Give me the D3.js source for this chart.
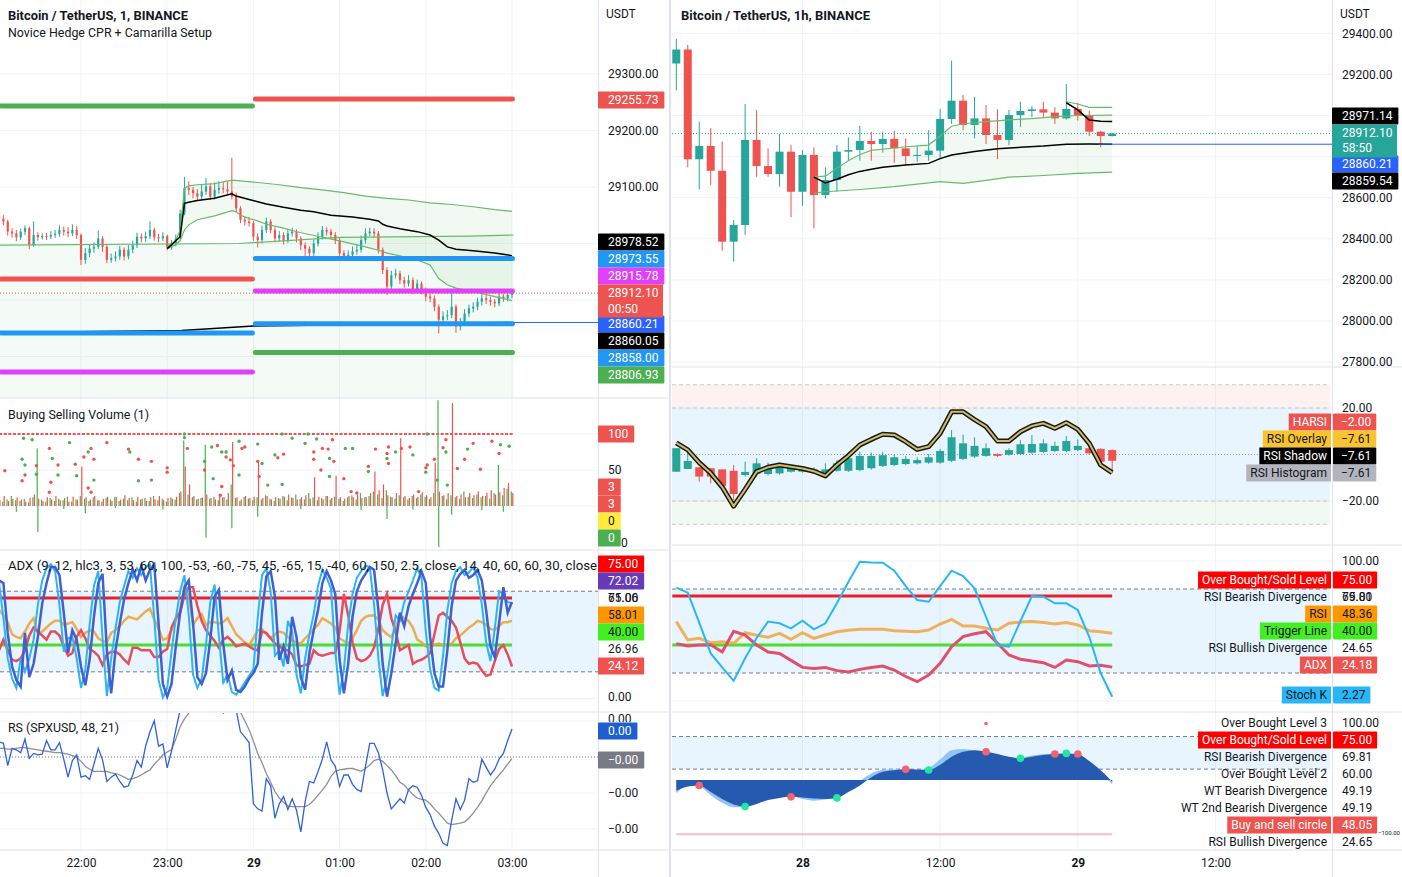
<!DOCTYPE html>
<html><head><meta charset="utf-8">
<script src="https://cdn.jsdelivr.net/npm/d3@7"></script>
<style>body{margin:0;background:#fff}svg{display:block;font-family:Roboto,"Liberation Sans",sans-serif}</style>
</head><body><svg id="c" width="1402" height="877"></svg>
<script>
// ---------------- DATA ----------------
const leftTicksT=[60,120,180,240,300,360];
const leftTickLabels=["22:00","23:00","29","01:00","02:00","03:00"];
const rightTicksH=[11,23,35,47];
const rightTickLabels=["28","12:00","29","12:00"];
const leftPriceTicks=[29300,29200,29100];
const leftPriceGrid=[29300,29200,29100,29000,28900,28800];
const rightPriceTicks=[29400,29200,28600,28400,28200,28000,27800];
const rightPriceGrid=[29400,29200,29000,28800,28600,28400,28200,28000,27800];

// left 1m chart, sampled every 3 minutes from 21:03
const lOpen0=29048;
const lClose=[29044,29039,29021,29018,29011,29021,29027,28997,29015,29011,
29013,29012,29015,29017,29024,29021,29018,29024,29015,28971,
28983,28991,28994,29009,28994,28971,28974,28977,28989,28977,
28989,28997,29012,29009,29013,29024,29011,29009,29013,28993,
29000,29009,29053,29098,29095,29089,29083,29092,29101,29083,
29095,29098,29096,29092,29083,29062,29042,29039,29036,29012,
29006,29024,29039,29024,29009,29015,29006,29018,29021,29009,
28997,28991,28983,29000,29012,29024,29021,29015,29006,28983,
28977,28980,28986,28989,29006,29018,29021,29018,28989,28953,
28924,28944,28947,28935,28929,28935,28918,28929,28918,28906,
28903,28888,28865,28871,28873,28888,28853,28859,28876,28885,
28888,28897,28903,28900,28897,28894,28906,28903,28909,28912.1];
const lHigh=[29059,29050,29042,29027,29024,29026,29032,29030,29039,29020,
29018,29019,29022,29024,29032,29030,29029,29034,29031,29018,
28992,28998,29002,29023,29013,28998,28982,28986,28996,28993,
28997,29005,29019,29018,29021,29039,29028,29017,29020,29016,
29006,29016,29060,29118,29110,29100,29096,29104,29116,29106,
29108,29110,29108,29110,29152,29090,29066,29048,29047,29040,
29018,29032,29046,29043,29029,29022,29020,29026,29028,29025,
29013,29002,28995,29007,29020,29031,29029,29026,29020,29010,
28988,28988,28995,28998,29014,29027,29028,29027,29022,28993,
28958,28952,28955,28952,28941,28944,28940,28936,28933,28922,
28912,28908,28892,28880,28882,28912,28892,28868,28884,28892,
28896,28904,28911,28909,28906,28902,28913,28911,28916,28918];
const lLow=[29038,29032,29014,29010,29004,29006,29015,28990,28994,29005,
29007,29006,29008,29010,29012,29014,29011,29013,29008,28962,
28964,28976,28984,28990,28985,28965,28966,28968,28971,28970,
28972,28983,28992,29002,29003,29008,29005,29002,29004,28988,
28989,28995,29005,29050,29086,29080,29076,29078,29086,29077,
29078,29088,29089,29085,29078,29056,29036,29032,29030,29005,
28993,29000,29018,29018,29002,29003,28998,29001,29012,29002,
28988,28978,28974,28978,28995,29007,29014,29008,28999,28974,
28970,28972,28975,28980,28984,29000,29013,29010,28982,28946,
28909,28918,28938,28928,28922,28924,28910,28912,28910,28898,
28896,28880,28841,28858,28864,28868,28842,28846,28854,28870,
28878,28882,28890,28893,28890,28887,28889,28897,28898,28903];

// overlays on left chart ([sample index, value]) and ([minute, value])
const lFlatBand=[[3,28997],[170,29000],[240,29011],[330,29013],[361,29015]];
const lWeekVwap=[[3,28842],[130,28846],[180,28854],[361,28860.05]];
const lVwap=[[39,28991],[42,29012],[43,29071],[44,29073],[46,29076],[50,29080],[54,29088],[55,29084],[58,29078],[60,29074],[62,29070],[66,29064],[70,29059],[73,29056],[77,29050],[82,29047],[86,29043],[88,29040],[89,29034],[90,29031],[93,29026],[97,29021],[100,29015],[102,29006],[104,28994],[106,28990],[110,28987],[115,28983],[119,28978.52]];
const lUpper=[[39,28994],[41,29005],[42,29024],[43,29098],[44,29102],[46,29104],[50,29106],[54,29112],[56,29111],[60,29108],[65,29104],[70,29099],[75,29095],[80,29090],[85,29084],[90,29080],[95,29077],[100,29072],[105,29069],[110,29065],[115,29060],[119,29057]];
const lLower=[[39,28991],[41,28998],[42,29005],[43,29024],[44,29033],[46,29042],[50,29049],[54,29058],[55,29056],[56,29050],[58,29044],[60,29040],[62,29034],[65,29029],[70,29019],[75,29011],[80,29003],[85,28994],[88,28988],[90,28983],[93,28978],[97,28971],[100,28962],[102,28938],[104,28927],[106,28921],[110,28915],[115,28906],[119,28899]];
const prevDayLevels=[29243.4,28937,28841.6,28772.6];
const curDayLevels=[29255.73,28973.55,28915.78,28858.00,28806.93];
const lastPrice=28912.10;
const hLine=28860.21;

// buying selling volume
const buyVol=[12,6,9,14,8,7,10,5,12,80, 9,6,11,7,10,8,13,6,9,14, 10,7,12,8,6,11,9,13,7,10, 8,12,6,9,11,7,14,8,10,6,
12,9,18,91,16,12,9,11,85,10, 13,8,12,9,30,11,7,13,10,8, 12,9,15,10,7,11,14,8,12,16, 10,9,18,12,8,11,14,9,13,10,
7,12,15,9,18,12,14,20,16,11, 22,13,10,15,12,9,14,11,16,13, 10,18,147,14,9,15,12,10,20,13, 11,16,12,14,10,18,57,15,24,20];
const sellVol=[8,14,7,10,12,9,6,11,16,10, 7,12,9,14,8,11,6,13,9,55, 12,9,14,8,10,13,7,12,9,15, 11,8,13,10,7,12,9,14,8,11,
10,13,20,55,30,14,10,12,16,11, 9,14,12,18,89,12,9,14,11,13, 62,11,14,9,12,10,13,16,11,9, 12,15,10,40,13,9,14,11,42,12,
10,14,12,16,11,13,18,48,22,30, 15,12,18,94,14,11,16,13,19,15, 12,60,20,15,18,143,14,16,12,18, 15,20,14,18,22,16,19,25,32,18];
const volDips=[[4,-8],[9,-36],[15,-4],[20,-10],[27,-3],[38,-5],[48,-44],[54,-31],[60,-15],[70,-4],[84,-6],[90,-18],[96,-5],[102,-57],[105,-12],[112,-6],[117,-8]];
const volDots=[[7,49,'r'],[19,65,'g'],[21,57,'g'],[21,43,'r'],[19,35,'r'],[20,94,'g'],[26,92,'g'],[29,56,'r'],[29,44,'g'],[38,80,'r'],[40,66,'g'],[39,33,'r'],[38,19,'r'],[44,57,'r'],[44,43,'g'],[52,88,'g'],[56,58,'r'],[57,42,'g'],[62,68,'r'],[65,75,'g'],[67,80,'r'],[65,25,'r'],[67,19,'r'],[69,65,'r'],[69,36,'g'],[78,88,'r'],[93,79,'r'],[94,75,'g'],[100,65,'r'],[100,35,'g'],[109,62,'r'],[109,36,'g'],[120,53,'r'],[120,47,'r'],[132,95,'g'],[134,80,'r'],[146,62,'g'],[146,50,'r'],[151,82,'g'],[152,38,'g'],[155,84,'r'],[158,75,'g'],[158,27,'r'],[157,15,'r'],[161,75,'g'],[161,68,'r'],[164,64,'r'],[170,43,'g'],[166,56,'r'],[172,80,'r'],[174,82,'r'],[170,90,'g'],[183,62,'r'],[183,86,'g'],[186,59,'g'],[184,41,'r'],[190,29,'g'],[195,71,'g'],[197,67,'r'],[200,30,'g'],[201,72,'r'],[207,94,'g'],[216,87,'g'],[222,75,'r'],[224,93,'g'],[222,65,'r'],[227,50,'r'],[228,80,'r'],[233,66,'g'],[233,41,'g'],[232,79,'r'],[235,92,'r'],[236,62,'r'],[244,80,'g'],[249,80,'g'],[243,38,'r'],[248,20,'r'],[252,18,'r'],[260,48,'g'],[260,55,'r'],[265,79,'r'],[273,73,'r'],[273,66,'g'],[274,59,'r'],[274,82,'r'],[279,75,'g'],[283,80,'r'],[289,82,'r'],[291,71,'g'],[295,20,'r'],[300,53,'r'],[300,47,'g'],[301,57,'r'],[306,65,'r'],[308,36,'g'],[314,75,'g'],[314,92,'r'],[312,81,'r'],[315,29,'g'],[322,52,'r'],[327,65,'r'],[329,79,'g'],[333,87,'r'],[338,51,'r'],[346,90,'r'],[352,85,'g'],[351,73,'r'],[358,83,'g'],[132,100,'g'],[200,100,'g'],[218,100,'g'],[301,100,'g']];

// left ADX panel
const lStochDark=[88,86,49,24,14,9,49,16,26,46, 71,86,98,98,92,64,34,51,44,24, 10,29,61,86,93,36,4,36,56,74, 86,96,88,99,88,96,100,56,11,1.5,
11,39,64,83,88,56,16,11,19,44, 76,81,41,14,21,6.5,5,9,15,19, 26,64,91,95,76,29,39,26,61,46, 16,6.5,34,51,66,86,95,88,78,29,
4,26,61,80,88,93,98,96,66,26, 1.5,19,41,64,54,69,78,86,95,86, 46,19,9,9,36,69,88,93,96,90, 92,96,88,66,39,31,56,83,64,72];
const lStochLight=[86,60,30,15,8,30,20,30,44,70, 88,97,100,95,70,35,45,46,30,8, 22,55,84,95,45,2,30,52,72,84, 95,90,97,92,98,100,60,14,1,8,
35,60,80,92,62,18,8,15,40,72, 85,46,12,18,5,3,7,12,17,22, 60,92,97,80,32,36,24,58,50,18, 4,30,48,63,84,96,90,82,35,3,
22,56,78,90,95,99,98,70,30,2, 16,38,62,58,72,80,88,97,90,50, 22,8,6,32,66,86,95,98,92,94, 98,90,70,42,28,52,80,78,72,71];
const lRsi=[66,62,57,48,46,45,50,56,60,49, 50,53,56,58,58,55,56,57,52,46, 49,51,50,45,43,42,49,51,54,58, 61,60,59,62,65,67,59,52,44,45,
51,58,66,83,77,55,60,63,55,57, 57,56,57,60,54,48,45,42,40,45, 51,52,48,45,48,50,49,46,43,42, 41,45,48,52,55,60,58,56,53,45,
43,41,45,51,58,61,62,62,59,51, 48,46,52,62,60,58,53,44,42,39, 38,40,41,40,40,41,45,47,50,53, 55,58,57,55,52,51,54,57,57,58];
const lAdx=[36,44,36,29,28,30,36,47,53,50, 47,44,50,50,47,39,32,34,46,51, 45,37,35,32,25,33,35,35,33,29, 26,38,38,36,36,36,31,31,35,37,
53,60,64,77,83,83,69,58,51,47, 43,38,44,46,43,39,40,41,39,37, 36,50,49,45,41,39,37,36,33,25, 24,25,26,36,33,32,33,34,34,50,
78,62,42,30,28,29,32,38,52,70, 78,60,50,36,38,40,26,28,29,31, 34,48,62,64,61,58,53,42,30,26, 27,26,21,17,18,28,37,40,33,24];
const adxLevels=[75,40];
const adxZone=[80,20];

// RS (SPXUSD) values in units of 1e-4
const rsLine=[2.1,1.9,-1.2,1.2,1.0,0.6,2.5,-0.2,0.5,0.3, 0.4,2.3,1.0,1.0,2.0,-0.3,-2.8,-0.5,0.3,-2.8, -2.6,-3.1,-1.0,1.2,-0.4,-3.4,-2.8,-2.4,-3.4,-4.2,
-4.0,-2.5,-0.5,-1.4,1.5,3.5,5.0,1.5,1.8,-1.5, 0.8,3.8,6.5,10,12,12,12,11,9,7, 6.5,6.8,6.1,7.5,8,6.5,3.5,2.8,2.0,-6.5,
-7.2,-7.5,-3.0,-4.0,-8.5,-6.5,-5.5,-7.3,-5.8,-7.4, -10.4,-6.2,-3.4,-3.6,-2.0,-0.3,2.1,-0.4,-1.3,-4.1, -2.5,-2.5,-3.8,-4.5,-4.8,-1.3,1.9,1.9,0.6,-1.8,
-5.0,-7.2,-6.5,-5.8,-6.4,-4.5,-4.0,-4.2,-5.3,-7.0, -8.0,-9.6,-10.6,-12.0,-12.3,-8.8,-5.8,-7.3,-6.0,-3.0, -3.5,-3.3,-0.3,-1.4,-2.5,-1.7,-0.3,0.5,2.3,3.9];
const rsMa=[1.2,1.2,1.1,1.1,1.2,1.3,1.3,1.2,1.1,1.0, 0.9,0.8,0.7,0.6,0.6,0.5,0.4,0.2,0.0,-0.6, -1.3,-1.7,-2.0,-2.0,-2.0,-2.0,-2.2,-2.3,-2.5,-2.8,
-3.1,-3.0,-2.8,-2.5,-2.1,-1.8,-1.0,-0.4,0.3,0.7, 1.0,2.5,4.2,5.3,6.1,6.6,7.0,7.2,7.3,7.3, 7.2,7.2,7.1,7.0,6.8,6.5,6.2,5.0,3.8,2.2,
0.5,-0.8,-2.3,-3.5,-4.8,-5.7,-6.3,-6.8,-6.9,-6.9, -6.9,-6.9,-6.6,-6.0,-5.3,-4.6,-3.8,-2.7,-2.0,-1.8, -1.7,-1.6,-1.6,-1.8,-2.0,-1.6,-1.1,-0.5,-0.3,-0.6,
-1.2,-1.8,-2.6,-3.5,-3.9,-4.6,-5.2,-5.7,-5.9,-6.0, -6.5,-7.2,-7.8,-8.5,-9.2,-9.4,-9.3,-9.2,-9.0,-8.5, -7.8,-7.0,-6.1,-5.0,-4.0,-3.2,-2.5,-1.8,-1.0,-0.2];

// right 1h chart, 27 13:00 -> 29 03:00
const rOpen=[29253,29321,28787,28852,28731,28386,28467,28881,28754,28715,28824,28629,28808,28613,28686,28824,28832,28876,28861,28886,28840,28803,28808,28829,28983,29072,28954,28986,28905,28881,29002,29022,29030,29014,28986,29032,29002,28921,28900];
const rHigh=[29373,29343,28970,28938,28873,28492,29056,29027,28840,28910,28856,28832,28845,28748,28856,28894,28949,28921,28921,28926,28889,28852,28929,29032,29267,29100,29091,29051,29030,29027,29067,29046,29067,29040,29153,29062,29023,28926,28915];
const rLow=[29122,28748,28641,28662,28342,28289,28419,28702,28702,28654,28505,28560,28451,28597,28629,28780,28780,28780,28819,28770,28759,28775,28780,28792,28959,28929,28889,28861,28787,28856,28945,28991,28991,28959,28980,28975,28900,28845,28898];
const rClose=[29321,28787,28852,28731,28386,28467,28881,28754,28715,28824,28629,28808,28613,28686,28824,28832,28876,28861,28886,28840,28803,28808,28829,28983,29072,28954,28986,28905,28881,29002,29022,29030,29014,28986,29032,29002,28921,28900,28912.1];
const rVwap=[[12,28700],[13,28672],[14,28690],[15,28712],[16,28728],[17,28738],[18,28748],[20,28759],[22,28767],[23,28790],[24,28808],[26,28825],[28,28838],[30,28845],[32,28851],[34,28860],[36,28861],[38,28859.54]];
const rUpper=[[12,28702],[13,28705],[14,28743],[15,28780],[16,28810],[17,28830],[20,28848],[22,28856],[23,28900],[24,28948],[25,28960],[27,28970],[29,28979],[31,28985],[33,28995],[35,29000],[38,29002]];
const rLower=[[12,28622],[13,28629],[16,28640],[19,28654],[22,28672],[23,28678],[25,28670],[27,28684],[29,28700],[32,28708],[35,28718],[38,28724]];
const rNewVwap=[[34,29062],[35,29027],[36,28978],[37,28972],[38,28971.14]];
const rNewUpper=[[34,29067],[35,29056],[36,29040],[38,29040]];

// HARSI
const haOpen=[-7.4,-6.2,-5.5,-5.9,-6.4,-7.0,-8.8,-8.4,-8.4,-8.1,-7.4,-7.4,-7.5,-7.8,-7.0,-7.0,-6.7,-5.9,-4.9,-4.5,-4.1,-3.8,-3.5,-3.5,-2.7,-1.9,-0.9,-0.6,0.2,-0.1,0.2,0.8,1.1,1.5,1.5,1.9,2.7,2.4,1.9];
const haHigh=[2.7,1.2,-5.5,-5.9,-6.4,-4.5,-3.1,-1.6,-3.5,-3.5,-4.5,-5.0,-5.5,-3.8,-2.4,-0.6,1.3,0.8,1.2,0.2,-0.6,-1.2,0.2,2.4,10.5,8.5,7.4,4.8,0.5,2.7,6.2,8.4,6.5,5.5,8.0,6.5,3.0,2.7,2.2];
const haLow=[-7.4,-6.2,-11.7,-12.4,-14.5,-19.6,-9.5,-9.5,-9.0,-8.6,-7.8,-7.8,-8.0,-9.5,-7.5,-7.5,-7.2,-6.5,-5.4,-5.0,-4.6,-4.3,-4.0,-4.0,-3.2,-2.4,-1.5,-1.0,-1.0,-0.5,-0.3,0.3,0.6,1.0,1.0,1.4,0.0,-3.5,-8.1];
const haClose=[2.7,-2.8,-9.5,-9.5,-13.5,-17,-7.5,-3.8,-4.9,-4.5,-5.5,-5.9,-6.4,-6.4,-3.8,-1.6,-0.6,-0.6,-0.3,-1.2,-1.9,-2.4,-1.2,1.5,7.4,4.8,3.7,2.7,-0.6,1.9,4.4,4.5,4.8,3.7,5.8,3.7,0.5,-3.1,-2.7];
const rsiOverlay=[5,2,-3.5,-8,-14,-22.2,-15,-7.4,-5.5,-4.5,-5.3,-6,-7.2,-9.2,-4.5,-0.5,4.1,6.5,8.7,8.4,5.5,2.2,3.4,9.1,18.4,18.4,15,12,5.8,5.8,9.8,12.3,13.4,11.3,13.7,10.8,4.8,-4.5,-7.8];
const harsiZones=[30,20,-20,-30];

// right ADX / RSI / Stoch
const rStochK=[81,77.4,56,34,24,14.5,30.5,45,56.7,55.5,51.9,57.4,51.2,55.5,69.8,85,99.5,99,98.8,93.1,82,72.1,70.9,82,93.1,89.3,80.5,60,40,38.8,57,75,74.5,69.8,69.8,65,45.9,19.8,3];
const rRsi=[56.7,43.6,44.8,41.7,42.4,41.2,48.8,47,45.5,48.3,44,48.8,44.8,47.1,49.5,50.5,51.2,51.2,51.2,50.2,49.8,49.5,50.7,55,58.3,53.6,53.6,52,50.7,55.5,56.5,56.7,56,55,56,54.3,50.2,49.5,48.4];
const rAdx=[41,39.3,40,40.2,35,49.8,47.1,40,35,34,29,24,23.3,24,21.7,20.7,22.6,24,25,22.1,17.5,13.8,18.6,26.9,38.8,46,48,49.5,41.2,32.9,29.8,28.5,27.4,24,29.3,28.1,25,25.5,24.2];

// WaveTrend
const wt1=[-25,-10,-12,-28,-42,-50,-50,-42,-34,-30,-30,-35,-38,-36,-30,-16,-2,12,19,20,19,18,22,38,55,57,54,50,45,40,41,45,48,49,49,45,30,12,-8];
const wt2=[-20,-12,-10,-22,-35,-45,-49,-44,-37,-33,-31,-32,-34,-35,-33,-22,-10,5,15,18,19.7,19.5,18.4,28,43,52,55,52,48,43,40,43,46,48,49,48,35,18,-3];
const wtDots=[[2,-10,'r'],[6,-49,'g'],[10,-31,'r'],[14,-33,'g'],[20,19.7,'r'],[22,18.4,'g'],[27,52,'r'],[30,40,'g'],[33,48,'r'],[34,49,'g'],[35,48,'r']];
const wtTopDot=[27,104];
const wtZone=[80,20];
const wtLow=-100;

// ---------------- DRAW ----------------
const svg=d3.select("#c");
const defs=svg.append("defs");
function clip(id,x,y,w,h){defs.append("clipPath").attr("id",id).append("rect").attr("x",x).attr("y",y).attr("width",w).attr("height",h);return "url(#"+id+")";}
const TEAL="#26a69a",RED="#ef5350",TXT="#131722",GRID="#f0f3fa",SEP="#e0e3eb";

const xL=d3.scaleLinear().domain([60,360]).range([81,512]);
const tL=i=>3+3*i;
const xLi=i=>xL(tL(i));
const yLP=d3.scaleLinear().domain([29300,29100]).range([74,187]);
const yLV=d3.scaleLinear().domain([0,100]).range([506,434]);
const yLA=d3.scaleLinear().domain([0,100]).range([698.7,564.4]);
const yLR=d3.scaleLinear().domain([0,-10]).range([757,829]);
const xR=d3.scaleLinear().domain([0,38]).range([676.3,1112.2]);
const yRP=d3.scaleLinear().domain([29400,27800]).range([33.3,362.1]);
const yRH=d3.scaleLinear().domain([20,-20]).range([408,501]);
const yRA=d3.scaleLinear().domain([100,0]).range([561,701]);
const yRW=d3.scaleLinear().domain([0,-100]).range([780,834.3]);

function hl(g,x1,x2,y,c,w,dash){return g.append("line").attr("x1",x1).attr("x2",x2).attr("y1",y).attr("y2",y).attr("stroke",c).attr("stroke-width",w||1).attr("stroke-dasharray",dash||null);}
function vl(g,x,y1,y2,c,w){return g.append("line").attr("x1",x).attr("x2",x).attr("y1",y1).attr("y2",y2).attr("stroke",c).attr("stroke-width",w||1);}
function txt(g,x,y,s,o={}){const t=g.append("text").attr("x",x).attr("y",y).attr("dy","0.35em").attr("font-size",o.fs||12).attr("fill",o.fill||TXT).attr("font-weight",o.fw||null).attr("text-anchor",o.anchor||"start").text(s);if(o.len)t.attr("textLength",o.len).attr("lengthAdjust","spacingAndGlyphs");return t;}
function boxL(g,x,yc,s,bg,fg,o={}){
  const t=txt(g,x+(o.padL??10),yc,s,{fill:fg});
  const w=t.node().getComputedTextLength();
  const h=o.h||17;
  g.insert("rect",()=>t.node()).attr("x",x).attr("y",yc-h/2).attr("width",w+(o.padL??10)+(o.padR??6)).attr("height",h).attr("fill",bg).attr("rx",1);
  return t;
}
function boxR(g,xr,yc,s,bg,fg){
  const t=txt(g,xr-4,yc,s,{fill:fg,anchor:"end"});
  const w=t.node().getComputedTextLength();
  if(bg) g.insert("rect",()=>t.node()).attr("x",xr-w-8).attr("y",yc-8.5).attr("width",w+8).attr("height",17).attr("fill",bg);
  return t;
}

const root=svg.append("g");
root.append("rect").attr("width",1402).attr("height",877).attr("fill","#fff");

// grid
const grid=root.append("g");
leftTicksT.forEach(t=>vl(grid,xL(t),0,850,GRID));
rightTicksH.forEach(h=>{if(xR(h)<1330)vl(grid,xR(h),0,850,GRID);});
leftPriceGrid.forEach(v=>hl(grid,0,598,yLP(v),GRID));
rightPriceGrid.forEach(v=>hl(grid,672,1332,yRP(v),GRID));
[0,50,100].forEach(v=>hl(grid,0,598,yLV(v),GRID));
[0,100].forEach(v=>hl(grid,0,598,yLA(v),GRID));
[5,0,-5,-10].forEach(v=>hl(grid,0,598,yLR(v),GRID));
[20,-20].forEach(v=>hl(grid,672,1332,yRH(v),GRID));
[100,0].forEach(v=>hl(grid,672,1332,yRA(v),GRID));

// ===== LEFT PRICE PANEL =====
const lp=root.append("g").attr("clip-path",clip("clp",0,0,598,398));
const lineT=d3.line().x(d=>xL(d[0])).y(d=>yLP(d[1]));
const lineI=d3.line().x(d=>xLi(d[0])).y(d=>yLP(d[1]));
lp.append("path").attr("d",d3.area().x(d=>xL(d[0])).y0(398).y1(d=>yLP(d[1]))(lFlatBand)).attr("fill","rgba(76,175,80,0.06)");
const upI=d3.scaleLinear().domain(lUpper.map(d=>d[0])).range(lUpper.map(d=>d[1]));
lp.append("path").attr("d",d3.area().x(d=>xLi(d[0])).y0(d=>yLP(d[1])).y1(d=>yLP(upI(d[0])))(lLower)).attr("fill","rgba(76,175,80,0.07)");
const lc=lp.append("g");
lClose.forEach((c,i)=>{
  const o=i?lClose[i-1]:lOpen0, x=xLi(i), col=c>=o?TEAL:RED;
  vl(lc,x,yLP(lHigh[i]),yLP(lLow[i]),col,1);
  const y1=yLP(Math.max(o,c)),y2=yLP(Math.min(o,c));
  lc.append("rect").attr("x",x-1.1).attr("width",2.2).attr("y",y1).attr("height",Math.max(0.8,y2-y1)).attr("fill",col);
});
lp.append("path").attr("d",lineT(lFlatBand)).attr("fill","none").attr("stroke","#66bb6a").attr("stroke-width",1.2);
lp.append("path").attr("d",lineI(lUpper)).attr("fill","none").attr("stroke","#66bb6a").attr("stroke-width",1.2);
lp.append("path").attr("d",lineI(lLower)).attr("fill","none").attr("stroke","#66bb6a").attr("stroke-width",1.2);
lp.append("path").attr("d",lineI(lVwap)).attr("fill","none").attr("stroke","#000").attr("stroke-width",1.5);
lp.append("path").attr("d",lineT(lWeekVwap)).attr("fill","none").attr("stroke","#000").attr("stroke-width",1.5);
const prevCol=["#4caf50",RED,"#2196f3","#e040fb"];
const curCol=[RED,"#2196f3","#e040fb","#2196f3","#4caf50"];
prevDayLevels.forEach((v,k)=>hl(lp,1,xL(180)-1,yLP(v),prevCol[k],5).attr("stroke-linecap","round"));
curDayLevels.forEach((v,k)=>hl(lp,xL(180)+2,xL(361)-1,yLP(v),curCol[k],5).attr("stroke-linecap","round"));
hl(lp,xL(361),598,yLP(hLine),"#2962ff",1);
hl(lp,0,598,yLP(lastPrice),RED,1,"1,2");
txt(root,8,16,"Bitcoin / TetherUS, 1, BINANCE",{fw:"bold",len:180});
txt(root,8,33,"Novice Hedge CPR + Camarilla Setup",{len:204});

// ===== LEFT VOLUME =====
const lv=root.append("g").attr("clip-path",clip("clv",0,399,598,151));
lv.append("line").attr("x1",xL(3)).attr("x2",xL(361)).attr("y1",yLV(100)).attr("y2",yLV(100)).attr("stroke",RED).attr("stroke-width",2.2).attr("stroke-dasharray","3,1.6");
buyVol.forEach((v,i)=>{const x=xLi(i);vl(lv,x-0.7,yLV(0),yLV(v),"#4caf50",1.2);});
sellVol.forEach((v,i)=>{const x=xLi(i);vl(lv,x+0.8,yLV(0),yLV(v),RED,1.2);});
volDips.forEach(d=>vl(lv,xLi(d[0]),yLV(0),yLV(d[1]),"#4caf50",1.2));
volDots.forEach(d=>lv.append("circle").attr("cx",xL(d[0])).attr("cy",yLV(d[1])).attr("r",1.7).attr("fill",d[2]==='g'?"#4caf50":RED));
txt(root,8,415,"Buying Selling Volume (1)",{len:141});

// ===== LEFT ADX =====
const la=root.append("g").attr("clip-path",clip("cla",0,551,598,161));
la.append("rect").attr("x",0).attr("width",598).attr("y",yLA(adxZone[0])).attr("height",yLA(adxZone[1])-yLA(adxZone[0])).attr("fill","rgba(33,150,243,0.1)");
adxZone.forEach(v=>hl(la,0,598,yLA(v),"#787b86",1,"4,3"));
hl(la,xL(3),xL(360),yLA(adxLevels[0]),"#e8202a",3);
hl(la,xL(3),xL(360),yLA(adxLevels[1]),"#4ddd2d",3);
const lineA=d3.line().x((d,i)=>xLi(i)).y(d=>yLA(d));
la.append("path").attr("d",lineA(lRsi)).attr("fill","none").attr("stroke","#f0a030").attr("stroke-opacity",0.85).attr("stroke-width",2.5);
la.append("path").attr("d",lineA(lAdx)).attr("fill","none").attr("stroke","#e84d5a").attr("stroke-width",2.5);
la.append("path").attr("d",lineA(lStochLight)).attr("fill","none").attr("stroke","#29b6f6").attr("stroke-width",2);
la.append("path").attr("d",lineA(lStochDark)).attr("fill","none").attr("stroke","#4060d0").attr("stroke-width",2.5);
const lat=root.append("g").attr("clip-path",clip("clat",0,551,597,30));
txt(lat,8,566,"ADX (9, 12, hlc3, 3, 53, 60, 100, -53, -60, -75, 45, -65, 15, -40, 60, 150, 2.5, close, 14, 40, 60, 60, 30, close",{len:589});

// ===== LEFT RS =====
const lr=root.append("g").attr("clip-path",clip("clr",0,713,598,137));
hl(lr,0,598,yLR(0),"#787b86",1,"1,2");
const lineR=d3.line().x((d,i)=>xLi(i)).y(d=>yLR(d));
lr.append("path").attr("d",lineR(rsMa)).attr("fill","none").attr("stroke","#8d8f96").attr("stroke-width",1.3);
lr.append("path").attr("d",lineR(rsLine)).attr("fill","none").attr("stroke","#2f62d8").attr("stroke-width",1.3);
txt(root,8,728,"RS (SPXUSD, 48, 21)",{len:111});

// ===== RIGHT PRICE =====
const rp=root.append("g").attr("clip-path",clip("crp",672,0,660,367));
const lineRI=d3.line().x(d=>xR(d[0])).y(d=>yRP(d[1]));
const upR=d3.scaleLinear().domain(rUpper.map(d=>d[0])).range(rUpper.map(d=>d[1]));
rp.append("path").attr("d",d3.area().x(d=>xR(d[0])).y0(d=>yRP(d[1])).y1(d=>yRP(upR(d[0])))(rLower)).attr("fill","rgba(76,175,80,0.07)");
rClose.forEach((c,i)=>{
  const o=rOpen[i],x=xR(i),col=c>=o?TEAL:RED;
  vl(rp,x,yRP(rHigh[i]),yRP(rLow[i]),col,1);
  const y1=yRP(Math.max(o,c)),y2=yRP(Math.min(o,c));
  rp.append("rect").attr("x",x-4).attr("width",8).attr("y",y1).attr("height",Math.max(1,y2-y1)).attr("fill",col);
});
rp.append("path").attr("d",lineRI(rUpper)).attr("fill","none").attr("stroke","#66bb6a").attr("stroke-width",1.2);
rp.append("path").attr("d",lineRI(rLower)).attr("fill","none").attr("stroke","#66bb6a").attr("stroke-width",1.2);
rp.append("path").attr("d",lineRI(rNewUpper)).attr("fill","none").attr("stroke","#66bb6a").attr("stroke-width",1.2);
rp.append("path").attr("d",lineRI(rVwap)).attr("fill","none").attr("stroke","#000").attr("stroke-width",1.5);
rp.append("path").attr("d",lineRI(rNewVwap)).attr("fill","none").attr("stroke","#000").attr("stroke-width",1.5);
hl(rp,xR(36.8),1332,yRP(hLine),"#2962ff",1);
hl(rp,672,1332,yRP(lastPrice),TEAL,1,"1,2");
txt(root,681,16,"Bitcoin / TetherUS, 1h, BINANCE",{fw:"bold",len:189});

// ===== HARSI =====
const rh=root.append("g").attr("clip-path",clip("crh",672,368,660,177));
rh.append("rect").attr("x",672).attr("width",658).attr("y",yRH(harsiZones[0])).attr("height",yRH(harsiZones[1])-yRH(harsiZones[0])).attr("fill","rgba(239,83,80,0.08)");
rh.append("rect").attr("x",672).attr("width",658).attr("y",yRH(harsiZones[1])).attr("height",yRH(harsiZones[2])-yRH(harsiZones[1])).attr("fill","rgba(33,150,243,0.1)");
rh.append("rect").attr("x",672).attr("width",658).attr("y",yRH(harsiZones[2])).attr("height",yRH(harsiZones[3])-yRH(harsiZones[2])).attr("fill","rgba(76,175,80,0.08)");
harsiZones.forEach(v=>hl(rh,672,1330,yRH(v),"#c8cad0",1,"4,3"));
hl(rh,672,1330,yRH(0),"#9598a1",1,"1,2");
haClose.forEach((c,i)=>{
  const o=haOpen[i],x=xR(i),col=c>=o?TEAL:RED;
  vl(rh,x,yRH(haHigh[i]),yRH(haLow[i]),col,1);
  const y1=yRH(Math.max(o,c)),y2=yRH(Math.min(o,c));
  rh.append("rect").attr("x",x-4).attr("width",8).attr("y",y1).attr("height",Math.max(1,y2-y1)).attr("fill",col);
});
const lineH=d3.line().x((d,i)=>xR(i)).y(d=>yRH(d));
rh.append("path").attr("d",lineH(rsiOverlay)).attr("fill","none").attr("stroke","#1a1a10").attr("stroke-width",5).attr("stroke-linejoin","round");
rh.append("path").attr("d",lineH(rsiOverlay)).attr("fill","none").attr("stroke","#cdbb6e").attr("stroke-width",2).attr("stroke-linejoin","round");

// ===== RIGHT ADX =====
const ra=root.append("g").attr("clip-path",clip("cra",672,546,660,166));
ra.append("rect").attr("x",672).attr("width",658).attr("y",yRA(adxZone[0])).attr("height",yRA(adxZone[1])-yRA(adxZone[0])).attr("fill","rgba(33,150,243,0.1)");
adxZone.forEach(v=>hl(ra,672,1330,yRA(v),"#787b86",1,"4,3"));
hl(ra,xR(0)-4,xR(38),yRA(adxLevels[0]),"#e8202a",3);
hl(ra,xR(0)-4,xR(38),yRA(adxLevels[1]),"#4ddd2d",3);
const lineRA=d3.line().x((d,i)=>xR(i)).y(d=>yRA(d));
ra.append("path").attr("d",lineRA(rRsi)).attr("fill","none").attr("stroke","#f0a030").attr("stroke-opacity",0.8).attr("stroke-width",3);
ra.append("path").attr("d",lineRA(rAdx)).attr("fill","none").attr("stroke","#e0506a").attr("stroke-width",3);
ra.append("path").attr("d",lineRA(rStochK)).attr("fill","none").attr("stroke","#29b6f6").attr("stroke-width",2);

// ===== WAVETREND =====
const rw=root.append("g").attr("clip-path",clip("crw",672,713,660,137));
rw.append("rect").attr("x",672).attr("width",658).attr("y",yRW(wtZone[0])).attr("height",yRW(wtZone[1])-yRW(wtZone[0])).attr("fill","rgba(33,150,243,0.1)");
wtZone.forEach(v=>hl(rw,672,1330,yRW(v),"#787b86",1,"4,3"));
hl(rw,xR(0),xR(38),yRW(wtLow),"#f8bbd0",2);
const areaW=d3.area().x((d,i)=>xR(i)).y0(yRW(0)).y1(d=>yRW(d)).curve(d3.curveMonotoneX);
rw.append("path").attr("d",areaW(wt1)).attr("fill","#90c6f4");
rw.append("path").attr("d",areaW(wt2)).attr("fill","#2659b0");
wtDots.forEach(d=>rw.append("circle").attr("cx",xR(d[0])).attr("cy",yRW(d[1])).attr("r",3.8).attr("fill",d[2]==='g'?"#1de9a0":"#f0646e"));
rw.append("circle").attr("cx",xR(wtTopDot[0])).attr("cy",yRW(wtTopDot[1])).attr("r",1.8).attr("fill","#f0646e");

// ===== SEPARATORS =====
const sep=root.append("g");
[398,550,712,850].forEach(y=>hl(sep,0,668,y,SEP));
[367,545,712,850].forEach(y=>hl(sep,672,1402,y,SEP));
vl(sep,598.5,0,877,SEP);vl(sep,670,0,877,SEP,2);vl(sep,1332.5,0,877,SEP);

// ===== AXES =====
const ax=root.append("g");
const axL=ax.append("g").attr("transform","translate(598,0)").call(d3.axisRight(yLP).tickValues(leftPriceTicks).tickSize(0).tickPadding(10).tickFormat(d3.format(".2f")));
const axR=ax.append("g").attr("transform","translate(1332,0)").call(d3.axisRight(yRP).tickValues(rightPriceTicks).tickSize(0).tickPadding(10).tickFormat(d3.format(".2f")));
[axL,axR].forEach(a=>{a.select(".domain").remove();a.selectAll("text").attr("font-size",12).attr("fill",TXT).attr("font-family","Roboto,sans-serif");});
const tx1=ax.append("g").attr("transform","translate(0,850)").call(d3.axisBottom(xL).tickValues(leftTicksT).tickSize(0).tickPadding(8).tickFormat((d,i)=>leftTickLabels[i]));
const tx2=ax.append("g").attr("transform","translate(0,850)").call(d3.axisBottom(xR).tickValues(rightTicksH).tickSize(0).tickPadding(8).tickFormat((d,i)=>rightTickLabels[i]));
[tx1,tx2].forEach(a=>{a.select(".domain").remove();a.selectAll("text").attr("font-size",12).attr("fill",TXT).attr("font-family","Roboto,sans-serif").attr("font-weight",d=>(d===180||d===11||d===35)?"bold":null);});
txt(ax,606,14,"USDT");txt(ax,1340,14,"USDT");

// left price labels
const fmt=d3.format(".2f");
const lpLabelVals=[curDayLevels[0],lVwap[lVwap.length-1][1],curDayLevels[1],curDayLevels[2],hLine,lWeekVwap[lWeekVwap.length-1][1],curDayLevels[3],curDayLevels[4]];
const lpLabelY=[100,242,259,276,324,341,358,375];
const lpLabelBg=[RED,"#000","#2196f3","#e040fb","#2962ff","#000","#2196f3","#4caf50"];
lpLabelVals.forEach((v,k)=>boxL(ax,598,lpLabelY[k],fmt(v),lpLabelBg[k],"#fff"));
ax.append("rect").attr("x",598).attr("y",284.5).attr("width",65).attr("height",33).attr("fill",RED);
txt(ax,608,293,fmt(lastPrice),{fill:"#fff"});txt(ax,608,309,"00:50",{fill:"#fff"});
// right price labels
const rpLabelVals=[rNewVwap[rNewVwap.length-1][1],hLine,rVwap[rVwap.length-1][1]];
const rpLabelY=[116,164,181];
const rpLabelBg=["#000","#2962ff","#000"];
rpLabelVals.forEach((v,k)=>boxL(ax,1332,rpLabelY[k],fmt(v),rpLabelBg[k],"#fff"));
ax.append("rect").attr("x",1332).attr("y",124.5).attr("width",65).attr("height",33).attr("fill",TEAL);
txt(ax,1342,133,fmt(lastPrice),{fill:"#fff"});txt(ax,1342,148,"58:50",{fill:"#fff"});

// left volume axis
boxL(ax,598,434,"100",RED,"#fff");
txt(ax,608,470,"50");
txt(ax,621,543,"0");
boxL(ax,598,487,"3",RED,"#fff");
boxL(ax,598,504,"3",RED,"#fff");
boxL(ax,598,521,"0","#ffeb3b",TXT);
boxL(ax,598,538,"0","#4caf50","#fff");
// left ADX axis
txt(ax,608,598,"71.00");txt(ax,608,598,"65.06");
boxL(ax,598,564,"75.00","#ff0000","#fff");
boxL(ax,598,581,"72.02","#673ab7","#fff");
boxL(ax,598,615,"58.01","#ff9800",TXT);
boxL(ax,598,632,"40.00","#44ee22",TXT);
txt(ax,608,649,"26.96");
boxL(ax,598,666,"24.12",RED,"#fff");
txt(ax,608,697,"0.00");
// left RS axis
const rsTop=ax.append("g").attr("clip-path",clip("crst",598,713,70,9));
txt(rsTop,608,719,"0.00");
boxL(ax,598,731,"0.00","#1e5fcf","#fff");
boxL(ax,598,760,"\u22120.00","#787b86","#fff");
txt(ax,608,793,"\u22120.00");txt(ax,608,829,"\u22120.00");

// HARSI labels
txt(ax,1342,408,"20.00");txt(ax,1342,501,"\u221220.00");
const hN=["HARSI","RSI Overlay","RSI Shadow","RSI Histogram"],hV=["\u22122.00","\u22127.61","\u22127.61","\u22127.61"],hY=[422,439,456,473];
const hBg=[RED,"#f9c42f","#000","#b2b5be"],hFg=["#fff",TXT,"#fff",TXT];
hN.forEach((n,k)=>{boxR(ax,1331,hY[k],n,hBg[k],hFg[k]);boxL(ax,1333,hY[k],hV[k],hBg[k],hFg[k],{padL:8,padR:5});});

// right ADX labels
txt(ax,1342,561,"100.00");
const aRows=[["Over Bought/Sold Level","75.00","#ff0000","#fff",580],["RSI Bearish Divergence","69.81",null,TXT,597],["RSI","48.36","#ff9800",TXT,614],["Trigger Line","40.00","#44ee22",TXT,631],["RSI Bullish Divergence","24.65",null,TXT,648],["ADX","24.18",RED,"#fff",665],["Stoch K","2.27","#29b6f6",TXT,695]];
txt(ax,1342,597,"75.00");
aRows.forEach(r=>{boxR(ax,1331,r[4],r[0],r[2],r[3]);if(r[2])boxL(ax,1333,r[4],r[1],r[2],r[3],{padL:9,padR:5});else txt(ax,1342,r[4],r[1]);});

// WT labels
const wRows=[["Over Bought Level 3","100.00",null,TXT,723],["Over Bought/Sold Level","75.00","#ff0000","#fff",740],["RSI Bearish Divergence","69.81",null,TXT,757],["Over Bought Level 2","60.00",null,TXT,774],["WT Bearish Divergence","49.19",null,TXT,791],["WT 2nd Bearish Divergence","49.19",null,TXT,808],["Buy and sell circle","48.05",RED,"#fff",825],["RSI Bullish Divergence","24.65",null,TXT,842]];
wRows.forEach(r=>{boxR(ax,1331,r[4],r[0],r[2],r[3]);if(r[2])boxL(ax,1333,r[4],r[1],r[2],r[3],{padL:9,padR:5});else txt(ax,1342,r[4],r[1]);});
txt(ax,1378,833,"\u2212100.00",{fs:6});
</script></body></html>
